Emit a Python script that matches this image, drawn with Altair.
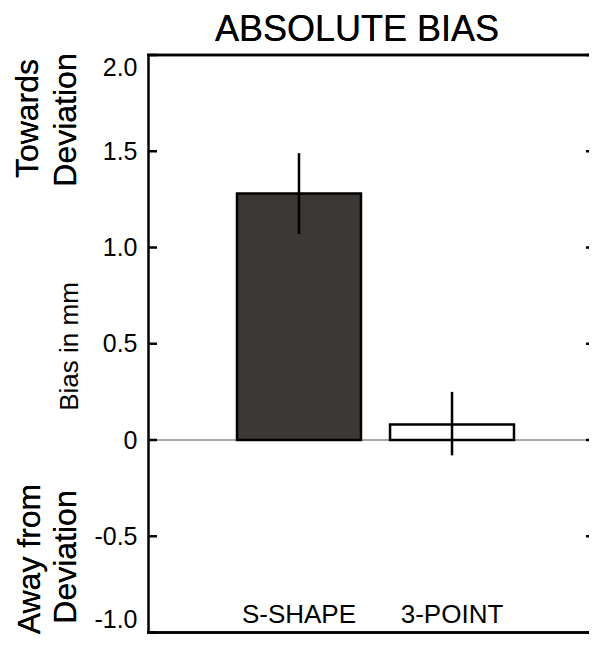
import altair as alt
import pandas as pd

# ---- data ----
conditions = ["S-SHAPE", "3-POINT"]
bias = [1.28, 0.08]
err_low = [1.07, -0.08]
err_high = [1.49, 0.25]
bar_fills = ["#3c3836", "#ffffff"]

tick_values = [-1.0, -0.5, 0.0, 0.5, 1.0, 1.5, 2.0]
tick_labels = ["-1.0", "-0.5", "0", "0.5", "1.0", "1.5", "2.0"]

title_text = "ABSOLUTE BIAS"
y_title = "Bias in mm"
side_top = ["Towards", "Deviation"]
side_bottom = ["Away from", "Deviation"]

FONT = "Liberation Sans"
W, H = 441, 577.5
Y_MIN, Y_MAX = -1.0, 2.0

bars_df = pd.DataFrame({"condition": conditions, "bias": bias,
                        "lo": err_low, "hi": err_high})
ticks_df = pd.DataFrame({"v": tick_values})

x_enc = alt.X("condition:N", sort=conditions, axis=None,
              scale=alt.Scale(range=[89, 366], paddingInner=0.19, paddingOuter=0))
y_scale = alt.Scale(domain=[Y_MIN, Y_MAX], nice=False, zero=False)

label_expr = "[" + ",".join(f"'{t}'" for t in tick_labels) + "][indexof([" + \
    ",".join(str(v) for v in tick_values) + "], datum.value)]"

y_axis = alt.Axis(values=tick_values, labelExpr=label_expr, ticks=False, grid=False,
                  domainColor="black", domainWidth=2.5, labelFont=FONT, labelFontSize=25,
                  labelColor="black", labelPadding=11, labelFlush=True,
                  title=y_title, titleFont=FONT, titleFontSize=26, titleFontWeight="normal",
                  titleColor="black", titleAngle=270, titleAlign="center",
                  titleBaseline="alphabetic", titleX=-71, titleY=291)

bars = alt.Chart(bars_df).mark_bar(stroke="black", strokeWidth=2.5).encode(
    x=x_enc,
    y=alt.Y("bias:Q", scale=y_scale, axis=y_axis),
    y2=alt.datum(0),
    fill=alt.Fill("condition:N", scale=alt.Scale(domain=conditions, range=bar_fills),
                  legend=None),
)

zero_line = alt.Chart(bars_df).mark_rule(color="#8c8c8c", strokeWidth=1).encode(
    y=alt.datum(0.0), x=alt.value(0), x2=alt.value(W)
)

errs = alt.Chart(bars_df).mark_rule(color="black", strokeWidth=2.5).encode(
    x=x_enc, y="lo:Q", y2="hi:Q"
)

frame_top = alt.Chart(bars_df).mark_rule(color="black", strokeWidth=2.5).encode(
    y=alt.datum(Y_MAX), x=alt.value(-1), x2=alt.value(W)
)
frame_bottom = alt.Chart(bars_df).mark_rule(color="black", strokeWidth=2.5).encode(
    y=alt.datum(Y_MIN), x=alt.value(-1), x2=alt.value(W)
)

left_ticks = alt.Chart(ticks_df).mark_rule(color="black", strokeWidth=2.5).encode(
    y="v:Q", x=alt.value(0), x2=alt.value(9)
)
right_ticks = alt.Chart(ticks_df).mark_rule(color="black", strokeWidth=2.5).encode(
    y="v:Q", x=alt.value(W - 3), x2=alt.value(W)
)

cat_labels = alt.Chart(bars_df).mark_text(
    font=FONT, fontSize=26, color="black", baseline="alphabetic", align="center"
).encode(x=x_enc, y=alt.value(568), text="condition:N")

title = alt.Chart(bars_df).mark_text(
    font=FONT, fontSize=36, color="black", baseline="alphabetic", align="center"
).encode(x=alt.value(209), y=alt.value(-14), text=alt.value(title_text))


def side(text, x, y):
    return alt.Chart(bars_df).mark_text(
        font=FONT, fontSize=32, color="black", baseline="alphabetic", align="center",
        angle=270
    ).encode(x=alt.value(x), y=alt.value(y), text=alt.value(text))


sides = [
    side(side_top[0], -110, 63.5),
    side(side_top[1], -72, 65),
    side(side_bottom[0], -108, 504),
    side(side_bottom[1], -72, 502),
]

chart = alt.layer(
    zero_line, bars, errs, frame_top, frame_bottom, left_ticks, right_ticks,
    cat_labels, title, *sides
).properties(
    width=W, height=H,
    autosize=alt.AutoSizeParams(type="none"),
    padding={"left": 140, "top": 47, "right": 0, "bottom": 1.5},
).configure_view(stroke=None).configure(background="white")

chart.save("out.html", embed_options={"renderer": "svg", "actions": False})
